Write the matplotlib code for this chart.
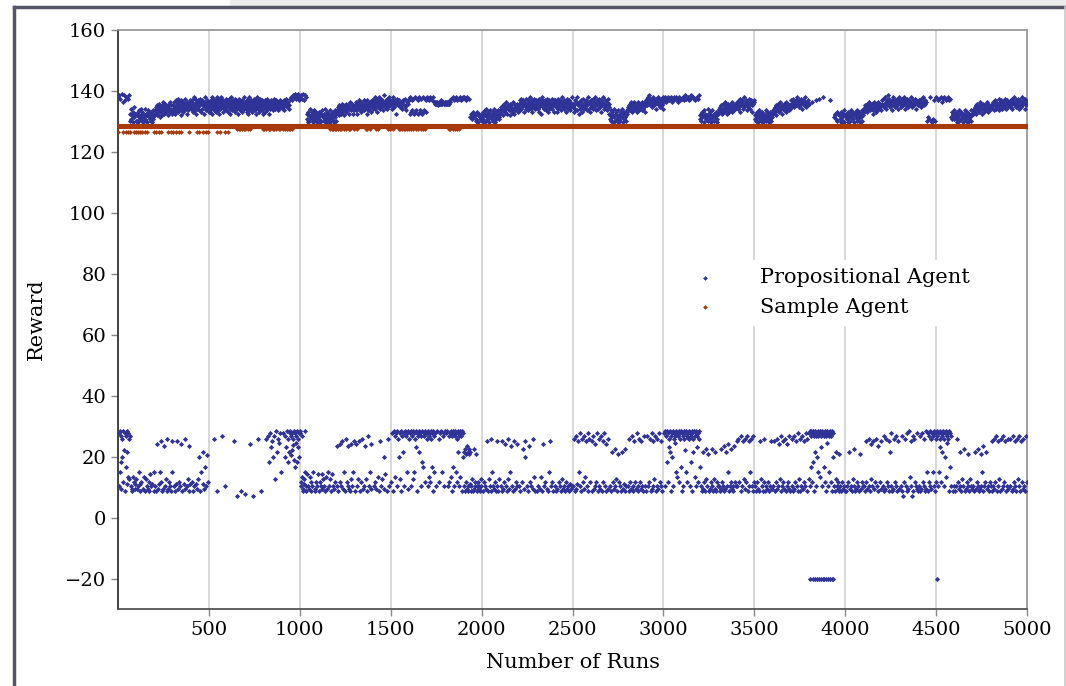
import numpy as np
import matplotlib
matplotlib.use('Agg')
import matplotlib.pyplot as plt
from matplotlib.lines import Line2D
from matplotlib.patches import Rectangle

plt.rcParams['font.family'] = ['DejaVu Serif']

# Propositional Agent reward, one string per block of 100 runs
# code: A..T -> 129.2..139.65 (step 0.55), a..z -> 7.0..27 (step 0.8),
#       0..9 -> 20.8..28.45 (step 0.85), '#' -> -20
prop_blocks = [
    "Q8eR9kP7doS6qN9gRt8cO7mQ9fsP8iR6hC7GeDJcFdHBiEgKdGfCh",
    "FdCHeGBkEIfDcJFgCEHdBGiEFcDJhCGeFBdHIcEgDFjCHeGBfDIEcFk",
    "GeIKcHFL4JdGMfIEkKH5gJLcFNdIG3KeMJhHLcI6KdFMgJNeHIcL5kGJ",
    "JLeHNKcGOIfMJ5LPdHKNgIMeF4OJLcKHNfMIP6dJLKeGNhIM3cLKOfJ",
    "LNgJOHcMQKeIPLfGNMdJOKhLIqNPcHMkJOfLsNGdKQmIMeOJrLNgHK",
    "KMNHOJLQGNKMPIL6MOJKHNQLMcIOKNGMLPJNKQLM7HONKJMLeNPIKOM",
    "MNLHOKPJMGNLQKMIOLN5JMKPHNLMOaJKNMGLOPIMKNcJLOHMNKQLJMbN",
    "LNJOHMKPGNLIQMK4NOJLMHKaNPLJMOIKNGQLM6JNOKHLMPcJNKILOMGN",
    "MKNHOLJ6MPIN7KLGoN8MJOuKL5NIMqP7KLhNJ9MOsKLN6IMwJO8KLkNM",
    "LNJ8KOMIqN7LPu9MKoN6LJs8P9Q7rO8tR6vQ9pS8mP7wR9oQ6uS8qO9",
    "Q8eRgP7iSdcOhfRk9eQcjDGeBHFdCiEJgFcDHeBGkCEIdFcHgDBeGFj",
    "EcDHgFBeGCjIdEFhCGeDJcBFiHEdCGkFDeIBhEGcDFjCHeGBdFIEgCH",
    "GIe3KHcJFL4IgGKeMH5JdLIkFKcJ6HMgIKe3LGdJNcKI4hMJeLGkIK5",
    "JLcIN4KGeMJhLO5IKcNHgMJ6LdKOIeM3JNhLGcOK7IMeJNkLH4dMKOJ",
    "MOKeNJQgLNdPHMOiKLQcNJ5MPeKONhLIMqRdKNjLOMcPJN6KMeQLONg",
    "NL8OJcQM9KN7iOMG8eP9LN6qMOK8hL9cNJ7sOM8eKP9IL7kN8M9dO6",
    "P8QG9HeO7IhP9kG8QH6uI9P8cOG7sQ9HI8eP7oG9QmH8I7P9gO8H6Q",
    "8P9eO7iQ8g9P6mO8c9QkN7MN8MeNM9NLM6NgMN8MO9NkMN7NM8eMN9",
    "NM8MN9eMN7MgN8O9iP7c8Q9mO8e7P9kQ8g6O9s8P7eQ9i8O7cP9q8Q",
    "Q1eP2cO0gd3Q1ec2P0fE1cGeFDhHcE2dGeFgC0DeHcFgBeGdEcDhFeC",
    "EFcDHgGBeIFdCJ5EGcHDhFBeGIc6EFkDHeCGdFJgBEcHDe5GFIcDEhG",
    "GIeKHcJ5LFdIMgKH4JeNGcKLh6IJdMFk3KLeIHNcJ5GMdKIgLJ4eMHK",
    "KMeLOIcNPJgMK2LOdHNMq5KJPeMLOcIN3KQgLMJeOHN6dKMLiPJNcOK",
    "LNcMJOeHPKdMLiNGOQcKM4JNeLOgIMKdPNHcLJOkMN5eKLPgJMcNOHL",
    "MOeKLcNHdPJMgLKeONcIMhLQdKNeJOcMLgHNdPKeMJcOLfNIdKMeQL",
    "KMe6LHcOJ7NdIQfL5MGkN8JeOKc6MHPgL7JdNKi5OMIeL8QcJN6gHMK",
    "MOc5LPJ7dNKeQ4MIgOL8cNJPe6KMdH7OLcN5QgJM8eKOc4LNI6dPMK",
    "GDeFIcC1EHgBFJdEC2eGHhDFcBI0EgDGeCHcF1JEdBGfDHcE2FCeIG",
    "HJeKcL6IgMKdNH7JeLcIN5KgMJdL8HKeNcIM6JgLKd5NIeMJcK7LHeN",
    "MOcPL7QeMNgR6LOcMP8dNKeQ5LOhMN7cPJeO6MQdLN8gKOeP5MLcQNJ",
    "OP8Qe9NO7oP9gQ8uO6sP9Q7cN8qO9e6Q8wP7kQ9O8iN7P9gQ6O8mP9c",
    "P8Q7e9O6tR8k9P7gQ8y6O9e8P7oR9c8Q6s9P7iO8e9Q7uP8g6R9m",
    "FDeGCcHE1dFIgBEcG2DhFeCJ0cEGdHFgBDeI2cFEhGCdE1HFcDgBGe",
    "GIeJcHK2dLGgIMeJ3HcKNdIL1eGJkM4cHKeLIg2JMdNHeKc3LIgJKeM",
    "LNe5MJ6OKgNHP7LcMOe5JNhKQ6dLMgOI7NcKLe5PMkJO6NeLH7cMOgN",
    "FDeCGcEHgBFdIEc5DGhFCeEHcBG6DgFEcICeHDdFGgBEcDHe5FCGdE",
    "GIe5JHcKFgL6IdMJeK4HhNIc7KLeGJg5MIdK6LcHNeJ4KgMId7LJcK",
    "MOe6LNcPK7dMNgOL5eQMc8NKhOL6cMPeN7JMdOL5gNQe8MKcN6OLhM",
    "8e9#7m9N8g#9o7c8#9sO7e#8q9k7#8P9i#7u8e9#Q8m7#9g8c#7w8",
    "9e8#7k9O#8g7#9c8#qEeGcF1DhHeCgGdF0cDeBHcFgEGdCeIBcF",
    "EGcFDeHBgE1GFdCIeEHcFGhDBe2HFcGEdCIgFDeEHc0BGFdEIgCHeF",
    "HJeKcL5IgMHdKJ6eNIcLK4hMJeIG5KNdLJgHM6eKIcN3LJgMKd5IL",
    "MOeLPKc7QMdNJ6gOLeRNc5MPKsNLe8OIcMQd6LNgKO7eMPcLN5JOdQM",
    "NMeOKc7PLaNQgM6OJeLNc8PMdK9OiLNe5QMaKO7cNL6gPMeOJd8NLc",
    "MOeLN7cPKdM8gNQeL6OcM9dNCkE8cD7gQ9eC6dB8kD7eO9cC8g6",
    "Q7#9eO8kP6u9Q8gN7s9P8eQ6q8O9iP7w8Q6cO9mP8E7eDHcFGeDI",
    "EGcFDeH6BgEFdCI1eGHcDFhBEe2GFcIDdCEgHFe0BGcDFhEIeCGdF",
    "GIeHcJK1dLGgIMeJ2HcKNdIL0eGJkM3cHKeLIg1JMdNHeKcLIgJKe",
    "JLc5KNeMI6dLOgJN7KcMLe5PIhNKcM6OLdJNe7KMgLP5cNJeMO6dKL",
    "LNe6MOKcPJ7dNMgQL5eOKcM6NPhLJe7OMcNK5gQLdM6OeNJcP7MLgN",
]
block_runs = 100

# Sample Agent: sits on 128.5 except for a few runs early on
n_runs = 5000
sample_main_reward = 128.5
sample_low_reward = 126.5
sample_low_runs = [2, 30, 42, 54, 66, 86, 98, 110, 122, 134, 146, 160, 196, 210,
                   224, 238, 276, 290, 304, 318, 334, 348, 388, 434, 448, 466,
                   482, 496, 544, 560, 590, 606]
sample_mid_reward = 127.6
sample_mid_runs = [656, 664, 672, 684, 692, 700, 716, 724,
                   796, 804, 812, 828, 836, 852, 860, 868, 884, 892, 908, 916,
                   932, 940, 948, 956,
                   1168, 1176, 1184, 1192, 1200, 1212, 1220, 1228, 1244, 1252,
                   1268, 1276, 1300, 1316,
                   1364, 1372, 1384, 1420, 1428, 1484, 1496, 1512,
                   1544, 1552, 1560, 1572, 1580, 1588, 1600, 1612, 1620, 1640,
                   1652, 1668, 1676, 1688,
                   1820, 1828, 1840, 1856, 1864, 1876]

BLUE = '#2f3296'
RUST = '#a8390b'


def decode(c):
    if c == '#':
        return -20.0
    if c.isdigit():
        return 20.8 + int(c) * 0.85
    if c.isupper():
        return 129.2 + 0.55 * (ord(c) - ord('A'))
    return 7.0 + 0.8 * (ord(c) - ord('a'))


px, py = [], []
for i, s in enumerate(prop_blocks):
    for j, c in enumerate(s):
        px.append(i * block_runs + (j + 1) * block_runs / len(s))
        py.append(decode(c))
px = np.array(px)
py = np.array(py)

runs = np.arange(1, n_runs + 1)
main_runs = np.setdiff1d(runs, sample_low_runs + sample_mid_runs)

fig = plt.figure(figsize=(10.66, 6.86), dpi=100)
ax = fig.add_axes([118 / 1066, 77 / 686, 909 / 1066, 579 / 686])

ax.scatter(px, py, marker='D', s=7, color=BLUE, linewidths=0,
           label='Propositional Agent', zorder=3)
ax.scatter(main_runs, np.full(len(main_runs), sample_main_reward), marker='D',
           s=7, color=RUST, linewidths=0, label='Sample Agent', zorder=4)
ax.scatter(sample_low_runs, np.full(len(sample_low_runs), sample_low_reward),
           marker='D', s=6, color=RUST, linewidths=0, zorder=4)
ax.scatter(sample_mid_runs, np.full(len(sample_mid_runs), sample_mid_reward),
           marker='D', s=6, color=RUST, linewidths=0, zorder=4)

ax.set_xlim(0, 5000)
ax.set_ylim(-30, 160)
ax.set_xticks(np.arange(500, 5001, 500))
ax.set_yticks(np.arange(-20, 161, 20))
ax.tick_params(axis='both', labelsize=14, direction='out', length=5,
               color='#888888', width=1)
ax.xaxis.grid(True, color='#d4d4d4', linewidth=1.3)
ax.set_axisbelow(True)

ax.spines['left'].set_color('#333333')
ax.spines['bottom'].set_color('#555555')
ax.spines['top'].set_color('#9a9a9a')
ax.spines['right'].set_color('#9a9a9a')
for sp in ax.spines.values():
    sp.set_linewidth(1.3)

ax.set_xlabel('Number of Runs', fontsize=15, labelpad=10)
ax.set_ylabel('Reward', fontsize=15, labelpad=14)

leg = ax.legend(loc='upper left', bbox_to_anchor=(0.602, 0.603),
                borderaxespad=0, frameon=True, fontsize=15, scatterpoints=1,
                handlelength=3.0, handletextpad=1.15, labelspacing=0.5,
                markerscale=0.9)
leg.get_frame().set_edgecolor('white')
leg.get_frame().set_facecolor('white')
leg.get_frame().set_alpha(1)

# screenshot frame around the figure
fig.add_artist(Rectangle((230 / 1066, 680 / 686), 836 / 1066, 6 / 686,
                         transform=fig.transFigure, color='#ececec', lw=0))
fig.add_artist(Line2D([14 / 1066, 1], [679 / 686, 679 / 686],
                      transform=fig.transFigure, color='#55556a', lw=2.5))
fig.add_artist(Line2D([14 / 1066, 14 / 1066], [0, 679 / 686],
                      transform=fig.transFigure, color='#55556a', lw=2.5))
fig.add_artist(Line2D([1064.5 / 1066, 1064.5 / 1066], [0, 679 / 686],
                      transform=fig.transFigure, color='#c8c8c8', lw=1.2))

fig.savefig('out.png', dpi=100)
